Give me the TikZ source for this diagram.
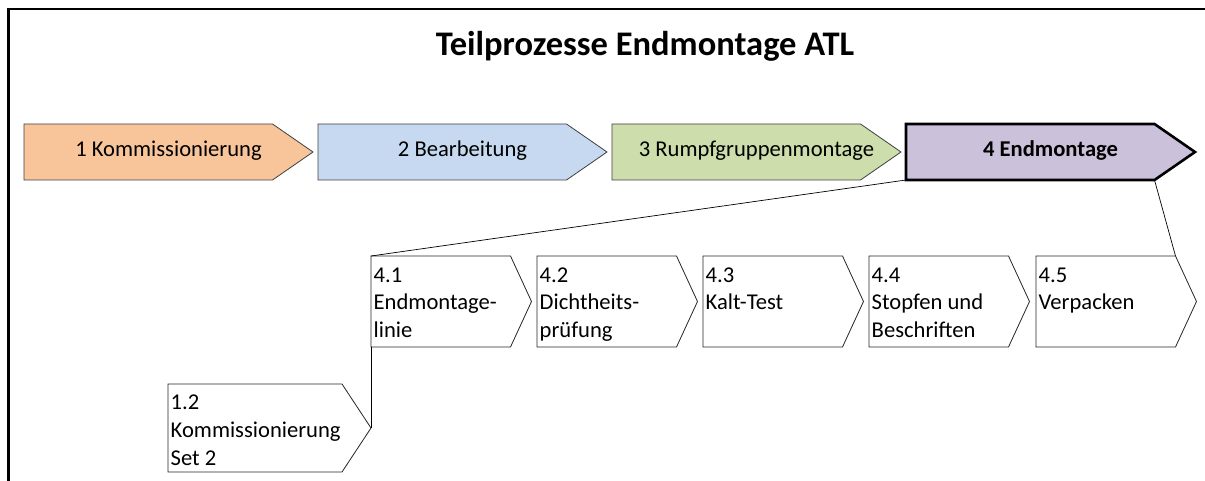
\documentclass[tikz,border=0pt]{standalone}
\usepackage{fontspec}
\setmainfont{Carlito}
\usetikzlibrary{calc}

\definecolor{kommfill}{HTML}{F8C59B}
\definecolor{bearbfill}{HTML}{C6D9F0}
\definecolor{rumpffill}{HTML}{CDDDAC}
\definecolor{endmfill}{HTML}{CCC1DA}
\definecolor{rim}{HTML}{404040}

% chevron: name, left x, top y, body width, tip width, height, path style
\newcommand\procchev[7]{%
  \node[chevbody, minimum width=#4pt, minimum height=#6pt, anchor=north west] (#1) at (#2,#3) {};
  \coordinate (#1-tip) at ($(#1.east)+(#5,0)$);
  \draw[#7] (#1.north west) -- (#1.north east) -- (#1-tip) -- (#1.south east) -- (#1.south west) -- cycle;
}

\begin{document}
\begin{tikzpicture}[x=1pt, y=-1pt,
  chevbody/.style={rectangle, draw=none, inner sep=0pt, outer sep=0pt},
  mainchev/.style={draw=rim, line width=0.8pt, line join=miter},
  boldchev/.style={draw=black, line width=2.6pt, line join=miter, fill=endmfill},
  subchev/.style={draw=black!85, line width=0.8pt, line join=miter, fill=white},
  link/.style={draw=black, line width=0.7pt},
  frameline/.style={draw=black, line width=2.6pt},
  maintext/.style={font=\fontsize{22.6}{27.6}\selectfont, anchor=mid, inner sep=0pt, yshift=-2.5pt},
  subtext/.style={font=\fontsize{22.6}{27.6}\selectfont, align=left, anchor=north west, inner sep=0pt},
  titletext/.style={font=\fontsize{34.5}{40}\selectfont\bfseries, anchor=base, inner sep=0pt}]

\useasboundingbox (0,0) rectangle (1205,481);
\fill[white] (0,0) rectangle (1205,481);

% outer frame (top and left edges)
\draw[frameline] (8.5,481) -- (8.5,9) -- (1205,9);

% title
\node[titletext] (title) at (645,56) {Teilprozesse Endmontage ATL};

% main process chain
\procchev{k1}{24}{124}{248.5}{40.5}{56}{mainchev, fill=kommfill}
\procchev{k2}{318}{124}{248.5}{40.5}{56}{mainchev, fill=bearbfill}
\procchev{k3}{612}{124}{248.5}{40.5}{56}{mainchev, fill=rumpffill}
\procchev{k4}{906}{124}{248.5}{40.5}{56}{boldchev}

\node[maintext] (t1) at ($(k1.west)!0.5!(k1-tip)$) {1 Kommissionierung};
\node[maintext] (t2) at ($(k2.west)!0.5!(k2-tip)$) {2 Bearbeitung};
\node[maintext] (t3) at ($(k3.west)!0.5!(k3-tip)$) {3 Rumpfgruppenmontage};
\node[maintext, font=\fontsize{22.6}{27.6}\selectfont\bfseries] (t4) at ($(k4.west)!0.5!(k4-tip)$) {4 Endmontage};

% sub processes of the final assembly
\procchev{s41}{371}{256}{139.5}{21}{91}{subchev}
\procchev{s42}{537}{256}{139.5}{21}{91}{subchev}
\procchev{s43}{703}{256}{139.5}{21}{91}{subchev}
\procchev{s44}{869}{256}{139.5}{21}{91}{subchev}
\procchev{s45}{1036}{256}{139.5}{21}{91}{subchev}
\procchev{s12}{168}{384}{174}{29}{88}{subchev}

\node[subtext] (u41) at ($(s41.north west)+(2.5,11.5)$) {4.1\\Endmontage-\\linie};
\node[subtext] (u42) at ($(s42.north west)+(2.5,11.5)$) {4.2\\Dichtheits-\\prüfung};
\node[subtext] (u43) at ($(s43.north west)+(2.5,11.5)$) {4.3\\Kalt-Test};
\node[subtext] (u44) at ($(s44.north west)+(2.5,11.5)$) {4.4\\Stopfen und\\Beschriften};
\node[subtext] (u45) at ($(s45.north west)+(2.5,11.5)$) {4.5\\Verpacken};
\node[subtext] (u12) at ($(s12.north west)+(2.5,11)$) {1.2\\Kommissionierung\\Set 2};

% expansion lines
\draw[link] (k4.south west) -- (s41.north west);
\draw[link] (k4.south east) -- (s45.north east);
\draw[link] (s41.south west) -- (s12-tip);

\end{tikzpicture}
\end{document}
